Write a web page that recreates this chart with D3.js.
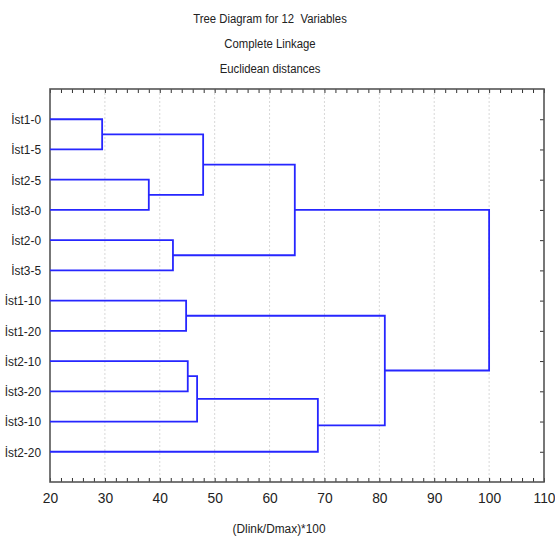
<!DOCTYPE html>
<html>
<head>
<meta charset="utf-8">
<script src="https://cdnjs.cloudflare.com/ajax/libs/d3/7.8.5/d3.min.js"></script>
<style>
  body { margin: 0; background: #fff; }
  text { font-family: "Liberation Sans", Arial, sans-serif; fill: #222; }
</style>
</head>
<body>
<svg id="chart" width="555" height="538"></svg>
<script>
// leaves, top to bottom
var leaves = ["İst1-0", "İst1-5", "İst2-5", "İst3-0", "İst2-0", "İst3-5",
              "İst1-10", "İst1-20", "İst2-10", "İst3-20", "İst3-10", "İst2-20"];
// merge steps: node 12+i joins mergeA[i] and mergeB[i] at mergeHeight[i]
var mergeA = [0, 2, 4, 6, 8, 16, 12, 18, 17, 15, 19];
var mergeB = [1, 3, 5, 7, 9, 10, 13, 14, 11, 20, 21];
var mergeHeight = [29.5, 38.0, 42.4, 44.8, 45.1, 46.8, 47.9, 64.6, 68.8, 81.0, 100];
var xTicks = [20, 30, 40, 50, 60, 70, 80, 90, 100, 110];
var titles = ["Tree Diagram for 12  Variables", "Complete Linkage", "Euclidean distances"];

var svg = d3.select("#chart");
var plotL = 50, plotR = 544, plotT = 89, plotB = 482;
var squeeze = 0.88; // the original font is condensed

var x = d3.scaleLinear().domain([20, 110]).range([plotL, plotR]);
var y = d3.scalePoint().domain(d3.range(leaves.length)).range([plotT, plotB]).padding(1);

// titles
svg.selectAll(".title").data(titles).enter().append("text")
  .attr("transform", function(d, i) { return "translate(270," + (23 + i * 25) + ") scale(0.84,1)"; })
  .attr("text-anchor", "middle").style("font-size", "13.5px")
  .style("white-space", "pre")
  .text(function(d) { return d; });

// grid
svg.append("g").selectAll("line").data(xTicks.slice(1, -1)).enter().append("line")
  .attr("x1", function(d) { return x(d); }).attr("x2", function(d) { return x(d); })
  .attr("y1", plotT).attr("y2", plotB)
  .attr("stroke", "#d8d8d8").attr("stroke-width", 1).attr("stroke-dasharray", "2,2");

// axes with inward ticks
var minor = d3.range(20, 111, 2);
var bottomAxis = d3.axisBottom(x).tickValues(minor).tickSize(-4)
  .tickFormat(function(d) { return d % 10 === 0 ? d : ""; }).tickPadding(10);
var gb = svg.append("g").attr("transform", "translate(0," + plotB + ")").call(bottomAxis);
gb.selectAll("text").style("font-size", "15px").attr("fill", "#222")
  .attr("transform", "scale(0.92,1)");

var topAxis = d3.axisTop(x).tickValues(minor).tickSize(-4).tickFormat("");
svg.append("g").attr("transform", "translate(0," + plotT + ")").call(topAxis);

var rightAxis = d3.axisRight(y).tickSize(-4).tickFormat("");
svg.append("g").attr("transform", "translate(" + plotR + ",0)").call(rightAxis);

var leftAxis = d3.axisLeft(y).tickSize(0).tickPadding(9)
  .tickFormat(function(i) { return leaves[i]; });
var gl = svg.append("g").attr("transform", "translate(" + plotL + ",0)").call(leftAxis);
gl.selectAll("text").style("font-size", "13.5px").attr("fill", "#222")
  .attr("x", -9 / squeeze).attr("transform", "scale(" + squeeze + ",1)");

svg.selectAll(".domain").remove();
svg.selectAll(".tick line").attr("stroke", "#333");

// frame
svg.append("rect").attr("x", plotL).attr("y", plotT)
  .attr("width", plotR - plotL).attr("height", plotB - plotT)
  .attr("fill", "none").attr("stroke", "#555").attr("stroke-width", 1.6);

// dendrogram
var nodeY = leaves.map(function(d, i) { return y(i); });
var nodeH = leaves.map(function() { return 20; });
var links = [];
mergeA.forEach(function(a, i) {
  var b = mergeB[i], h = mergeHeight[i];
  links.push([[x(nodeH[a]), nodeY[a]], [x(h), nodeY[a]], [x(h), nodeY[b]], [x(nodeH[b]), nodeY[b]]]);
  nodeY.push((nodeY[a] + nodeY[b]) / 2);
  nodeH.push(h);
});
var line = d3.line();
svg.append("g").selectAll("path").data(links).enter().append("path")
  .attr("d", line).attr("fill", "none")
  .attr("stroke", "#2626ff").attr("stroke-width", 1.8);

// x label
svg.append("text").attr("transform", "translate(279,533) scale(" + squeeze + ",1)")
  .attr("text-anchor", "middle").style("font-size", "13.5px").text("(Dlink/Dmax)*100");
</script>
</body>
</html>
